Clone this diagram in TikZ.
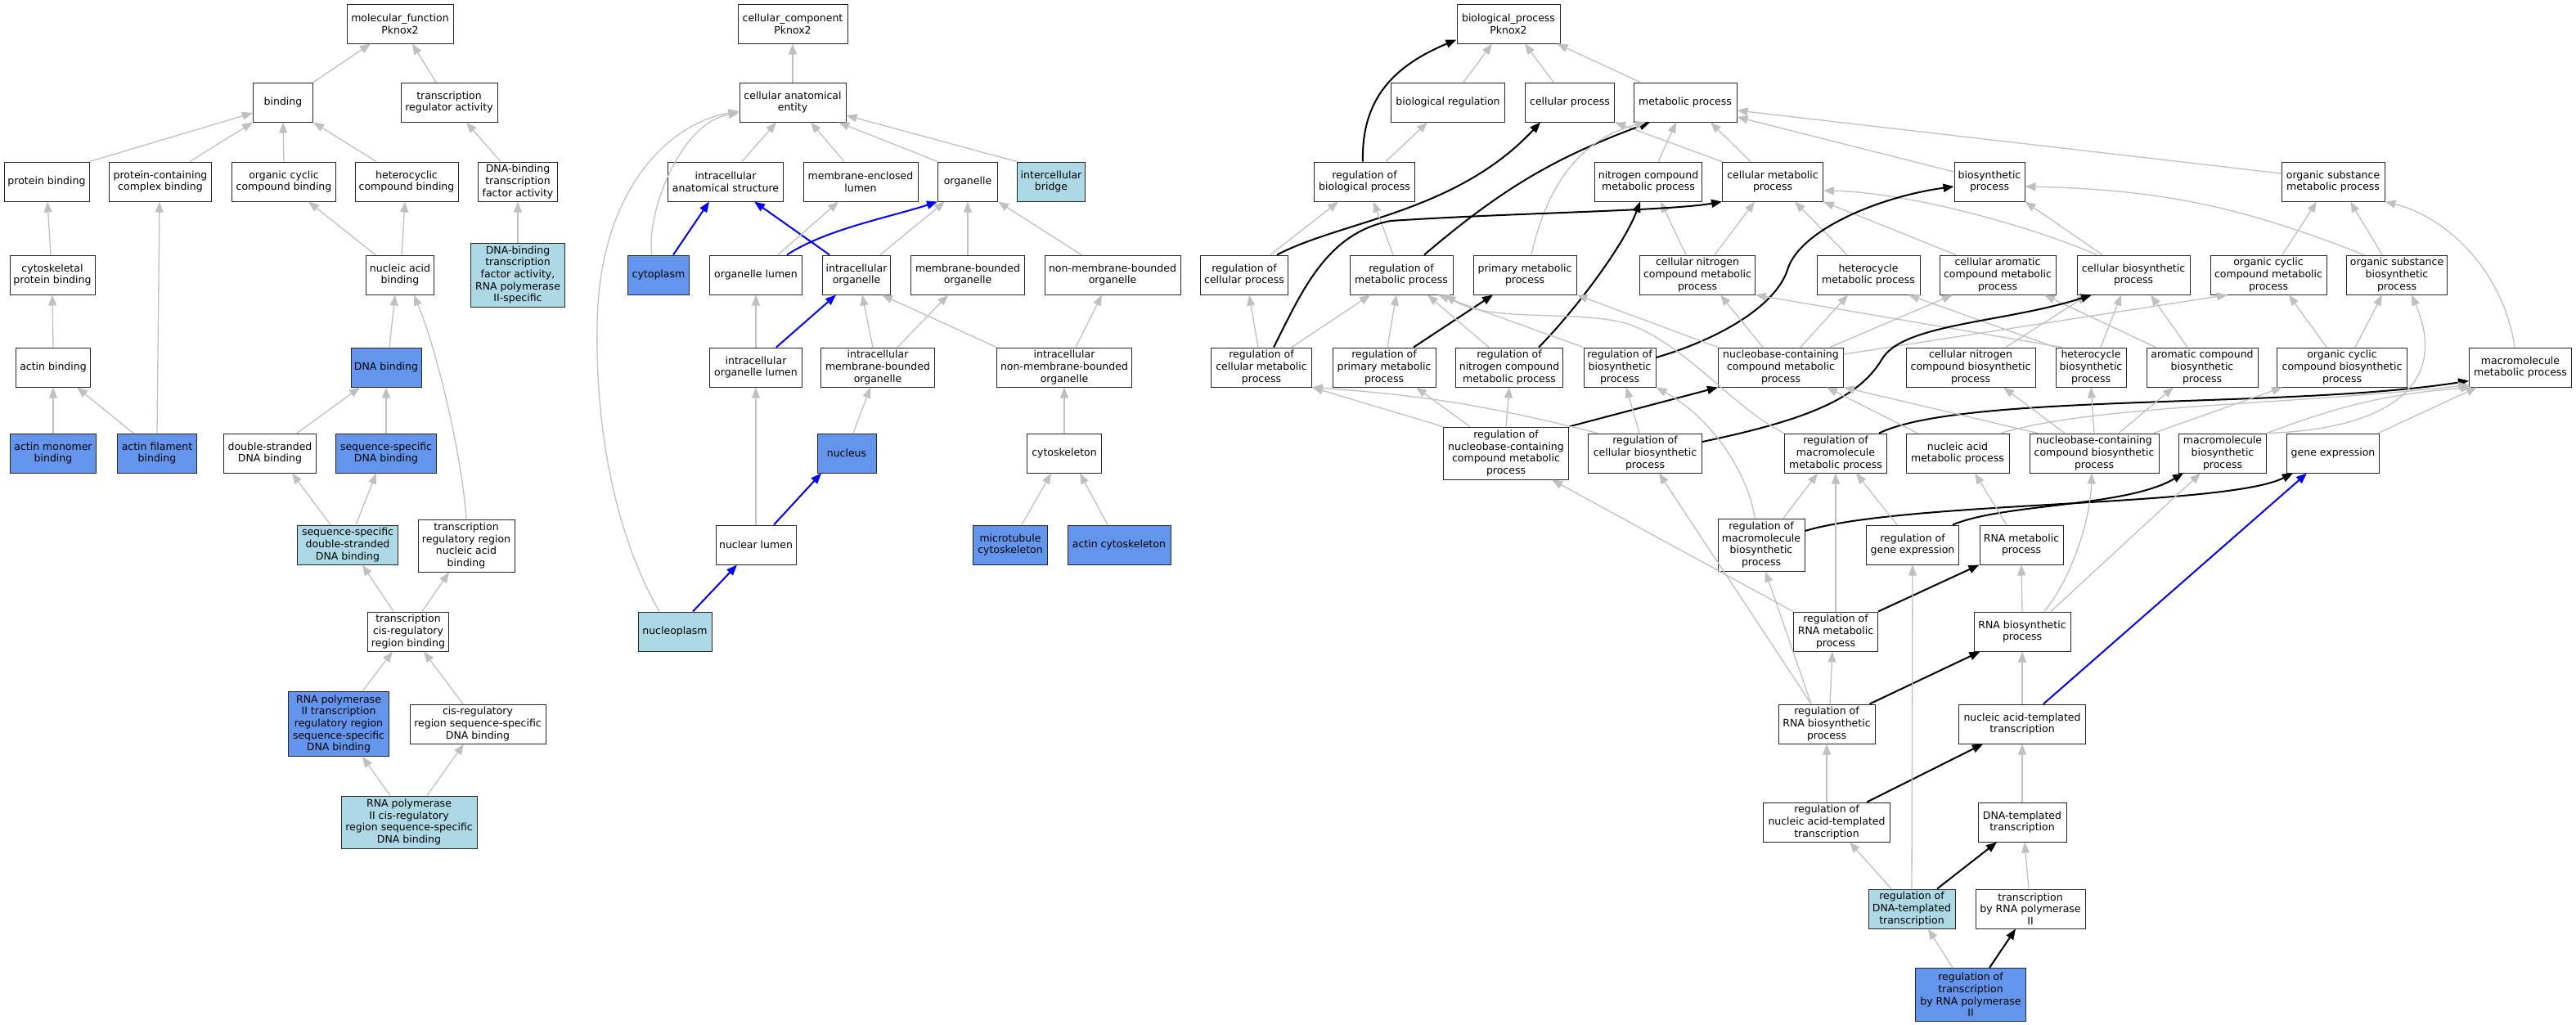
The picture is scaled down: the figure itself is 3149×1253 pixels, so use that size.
\documentclass[tikz,border=0pt]{standalone}
\usepackage{fontspec}
\setmainfont{DejaVu Sans}
\usetikzlibrary{arrows.meta}
\definecolor{cornflower}{HTML}{6495ED}
\definecolor{lightblu}{HTML}{ADD8E6}
\definecolor{edgegray}{HTML}{C0C0C0}
\begin{document}
\begin{tikzpicture}[x=1pt,y=-1pt,
    goterm/.style={draw=black!85, line width=1pt, fill=white, align=center,
      inner xsep=2pt, inner ysep=1pt, minimum height=48pt,
      font=\fontsize{12.5}{14.7}\selectfont},
    gohit/.style={goterm, fill=cornflower},
    golight/.style={goterm, fill=lightblu},
    isa/.style={draw=edgegray, line width=1.3pt, -{Triangle[length=13pt,width=10pt]}},
    regedge/.style={draw=black, line width=2pt, -{Triangle[length=13pt,width=10pt]}},
    partof/.style={draw=blue, line width=2pt, -{Triangle[length=13pt,width=10pt]}}]
    \useasboundingbox (0,0) rectangle (3149,1253);

    % molecular function
    \node[goterm, minimum width=130pt] (mf) at (489,29) {molecular\_function\\Pknox2};
    \node[goterm, minimum width=73pt] (bind) at (346,125) {binding};
    \node[goterm, minimum width=118pt] (trreg) at (549,125) {transcription\\regulator activity};
    \node[goterm, minimum width=104pt] (protb) at (57,222) {protein binding};
    \node[goterm, minimum width=125pt] (pcplx) at (196,222) {protein-containing\\complex binding};
    \node[goterm, minimum width=127pt] (occb) at (347,222) {organic cyclic\\compound binding};
    \node[goterm, minimum width=126pt] (hetcb) at (497,222) {heterocyclic\\compound binding};
    \node[goterm, minimum width=97pt] (dbtf) at (633,222) {DNA-binding\\transcription\\factor activity};
    \node[goterm, minimum width=104pt] (cytpb) at (64,336) {cytoskeletal\\protein binding};
    \node[goterm, minimum width=83pt] (nab) at (489,336) {nucleic acid\\binding};
    \node[golight, minimum width=115pt, minimum height=78pt] (dbtf2) at (633,336) {DNA-binding\\transcription\\factor activity,\\RNA polymerase\\II-specific};
    \node[goterm, minimum width=91pt] (actb) at (65,449) {actin binding};
    \node[gohit, minimum width=86pt] (dnab) at (472,449) {DNA binding};
    \node[gohit, minimum width=105pt] (actmb) at (65,554) {actin monomer\\binding};
    \node[gohit, minimum width=97pt] (actfb) at (192,554) {actin filament\\binding};
    \node[goterm, minimum width=113pt] (dsdb) at (330,554) {double-stranded\\DNA binding};
    \node[gohit, minimum width=123pt] (ssdb) at (472,554) {sequence-specific\\DNA binding};
    \node[golight, minimum width=123pt] (ssds) at (425,666) {sequence-specific\\double-stranded\\DNA binding};
    \node[goterm, minimum width=118pt, minimum height=64pt] (trrna) at (570,667) {transcription\\regulatory region\\nucleic acid\\binding};
    \node[goterm, minimum width=99pt] (tcis) at (499,772) {transcription\\cis-regulatory\\region binding};
    \node[gohit, minimum width=123pt, minimum height=79pt] (rp2reg) at (414,885) {RNA polymerase\\II transcription\\regulatory region\\sequence-specific\\DNA binding};
    \node[goterm, minimum width=166pt] (cisss) at (584,885) {cis-regulatory\\region sequence-specific\\DNA binding};
    \node[golight, minimum width=166pt, minimum height=64pt] (rp2cis) at (500,1005) {RNA polymerase\\II cis-regulatory\\region sequence-specific\\DNA binding};

    \draw[isa] (bind.north east) -- ([xshift=-36pt]mf.south);
    \draw[isa] ([xshift=-16pt]trreg.north) -- ([xshift=15pt]mf.south);
    \draw[isa] (protb.north east) -- ([yshift=-13pt]bind.west);
    \draw[isa] ([xshift=36pt]pcplx.north) -- (bind.south west);
    \draw[isa] (occb.north) -- (bind.south);
    \draw[isa] ([xshift=-37pt]hetcb.north) -- (bind.south east);
    \draw[isa] ([xshift=-21pt]dbtf.north) -- ([xshift=21pt]trreg.south);
    \draw[isa] (dbtf2.north) -- (dbtf.south);
    \draw[isa] ([xshift=-2pt]cytpb.north) -- ([xshift=1pt]protb.south);
    \draw[isa] ([xshift=-30pt]nab.north) -- ([xshift=30pt]occb.south);
    \draw[isa] ([xshift=2pt]nab.north) -- ([xshift=-2pt]hetcb.south);
    \draw[isa] (actb.north) -- (cytpb.south);
    \draw[isa] ([xshift=4pt]dnab.north) -- ([xshift=-6pt]nab.south);
    \draw[isa] (trrna.north) .. controls (565,560) and (535,430) .. ([xshift=17pt]nab.south);
    \draw[isa] (actmb.north) -- (actb.south);
    \draw[isa] ([xshift=-29pt]actfb.north) -- ([xshift=29pt]actb.south);
    \draw[isa] (actfb.north) -- ([xshift=-1pt]pcplx.south);
    \draw[isa] ([xshift=33pt]dsdb.north) -- ([xshift=-32pt]dnab.south);
    \draw[isa] (ssdb.north) -- (dnab.south);
    \draw[isa] ([xshift=-21pt]ssds.north) -- ([xshift=27pt]dsdb.south);
    \draw[isa] ([xshift=10pt]ssds.north) -- ([xshift=-12pt]ssdb.south);
    \draw[isa] ([xshift=-18pt]tcis.north) -- ([xshift=18pt]ssds.south);
    \draw[isa] ([xshift=17pt]tcis.north) -- ([xshift=-21pt]trrna.south);
    \draw[isa] ([xshift=29pt]rp2reg.north) -- ([xshift=-19pt]tcis.south);
    \draw[isa] ([xshift=-18pt]cisss.north) -- ([xshift=19pt]tcis.south);
    \draw[isa] ([xshift=-23pt]rp2cis.north) -- ([xshift=29pt]rp2reg.south);
    \draw[isa] ([xshift=22pt]rp2cis.north) -- ([xshift=-17pt]cisss.south);

    % cellular component
    \node[goterm, minimum width=134pt] (cc) at (969,29) {cellular\_component\\Pknox2};
    \node[goterm, minimum width=130pt] (cae) at (969,125) {cellular anatomical\\entity};
    \node[goterm, minimum width=141pt] (ias) at (887,222) {intracellular\\anatomical structure};
    \node[goterm, minimum width=140pt] (mel) at (1052,222) {membrane-enclosed\\lumen};
    \node[goterm, minimum width=73pt] (org) at (1183,222) {organelle};
    \node[golight, minimum width=83pt] (icb) at (1285,222) {intercellular\\bridge};
    \node[gohit, minimum width=75pt] (cyto) at (805,336) {cytoplasm};
    \node[goterm, minimum width=113pt] (orgl) at (924,336) {organelle lumen};
    \node[goterm, minimum width=83pt] (iorg) at (1047,336) {intracellular\\organelle};
    \node[goterm, minimum width=139pt] (mbo) at (1183,336) {membrane-bounded\\organelle};
    \node[goterm, minimum width=166pt] (nmbo) at (1360,336) {non-membrane-bounded\\organelle};
    \node[goterm, minimum width=113pt] (iol) at (924,449) {intracellular\\organelle lumen};
    \node[goterm, minimum width=139pt] (imbo) at (1073,449) {intracellular\\membrane-bounded\\organelle};
    \node[goterm, minimum width=165pt] (inmbo) at (1301,449) {intracellular\\non-membrane-bounded\\organelle};
    \node[gohit, minimum width=72pt] (nuc) at (1035,554) {nucleus};
    \node[goterm, minimum width=91pt] (cysk) at (1301,554) {cytoskeleton};
    \node[goterm, minimum width=98pt] (nlum) at (924,666) {nuclear lumen};
    \node[gohit, minimum width=91pt] (mtc) at (1235,666) {microtubule\\cytoskeleton};
    \node[gohit, minimum width=126pt] (acs) at (1368,666) {actin cytoskeleton};
    \node[golight, minimum width=90pt] (nplasm) at (825,772) {nucleoplasm};

    \draw[isa] (cae.north) -- (cc.south);
    \draw[isa] ([xshift=20pt]ias.north) -- ([xshift=-20pt]cae.south);
    \draw[isa] ([xshift=-20pt]mel.north) -- ([xshift=22pt]cae.south);
    \draw[isa] (org.north west) -- ([xshift=56pt]cae.south);
    \draw[isa] (icb.north west) -- ([yshift=-16pt]cae.east);
    \draw[isa] ([xshift=-8pt]cyto.north) .. controls (789,265) and (830,150) .. ([yshift=-13pt]cae.west);
    \draw[isa] ([xshift=-19pt]nplasm.north) .. controls (750,650) and (728,520) .. (730,400)
      .. controls (731,230) and (820,150) .. ([yshift=-11pt]cae.west);
    \draw[partof] ([xshift=18pt]cyto.north) -- ([xshift=-20pt]ias.south);
    \draw[partof] ([xshift=-33pt]iorg.north) -- ([xshift=35pt]ias.south);
    \draw[isa] ([xshift=27pt]orgl.north) -- ([xshift=-27pt]mel.south);
    \draw[partof] ([xshift=38pt]orgl.north) .. controls (1010,280) and (1090,265) .. (org.south west);
    \draw[isa] ([xshift=29pt]iorg.north) -- ([xshift=-28pt]org.south);
    \draw[isa] (mbo.north) -- (org.south);
    \draw[isa] ([xshift=-38pt]nmbo.north) -- (org.south east);
    \draw[isa] (iol.north) -- (orgl.south);
    \draw[partof] ([xshift=25pt]iol.north) -- ([xshift=-25pt]iorg.south);
    \draw[isa] ([xshift=-6pt]imbo.north) -- ([xshift=7pt]iorg.south);
    \draw[isa] ([xshift=24pt]imbo.north) -- ([xshift=-24pt]mbo.south);
    \draw[isa] (inmbo.north west) -- ([xshift=31pt]iorg.south);
    \draw[isa] ([xshift=14pt]inmbo.north) -- ([xshift=-13pt]nmbo.south);
    \draw[isa] (nlum.north) -- (iol.south);
    \draw[isa] ([xshift=8pt]nuc.north) -- ([xshift=-9pt]imbo.south);
    \draw[partof] ([xshift=22pt]nlum.north) -- ([xshift=-31pt]nuc.south);
    \draw[isa] (cysk.north) -- (inmbo.south);
    \draw[isa] ([xshift=14pt]mtc.north) -- ([xshift=-16pt]cysk.south);
    \draw[isa] ([xshift=-14pt]acs.north) -- ([xshift=19pt]cysk.south);
    \draw[partof] ([xshift=22pt]nplasm.north) -- ([xshift=-23pt]nlum.south);

    % biological process
    \node[goterm, minimum width=126pt] (bp) at (1844,29) {biological\_process\\Pknox2};
    \node[goterm, minimum width=139pt] (breg) at (1770,125) {biological regulation};
    \node[goterm, minimum width=109pt] (cellp) at (1919,125) {cellular process};
    \node[goterm, minimum width=126pt] (metp) at (2060,125) {metabolic process};
    \node[goterm, minimum width=123pt] (rbp) at (1668,222) {regulation of\\biological process};
    \node[goterm, minimum width=131pt] (ncmp) at (2015,222) {nitrogen compound\\metabolic process};
    \node[goterm, minimum width=123pt] (cmp) at (2167,222) {cellular metabolic\\process};
    \node[goterm, minimum width=86pt] (bsp) at (2432,222) {biosynthetic\\process};
    \node[goterm, minimum width=126pt] (osmp) at (2852,222) {organic substance\\metabolic process};
    \node[goterm, minimum width=107pt] (rcp) at (1521,336) {regulation of\\cellular process};
    \node[goterm, minimum width=126pt] (rmp) at (1713,336) {regulation of\\metabolic process};
    \node[goterm, minimum width=126pt] (pmp) at (1864,336) {primary metabolic\\process};
    \node[goterm, minimum width=141pt] (cncmp) at (2075,336) {cellular nitrogen\\compound metabolic\\process};
    \node[goterm, minimum width=126pt] (hmp) at (2284,336) {heterocycle\\metabolic process};
    \node[goterm, minimum width=142pt] (camp) at (2442,336) {cellular aromatic\\compound metabolic\\process};
    \node[goterm, minimum width=138pt] (cbp) at (2608,336) {cellular biosynthetic\\process};
    \node[goterm, minimum width=142pt] (occmp) at (2773,336) {organic cyclic\\compound metabolic\\process};
    \node[goterm, minimum width=123pt] (osbp) at (2930,336) {organic substance\\biosynthetic\\process};
    \node[goterm, minimum width=123pt] (rcmp) at (1542,449) {regulation of\\cellular metabolic\\process};
    \node[goterm, minimum width=126pt] (rpmp) at (1692,449) {regulation of\\primary metabolic\\process};
    \node[goterm, minimum width=131pt] (rncmp) at (1845,449) {regulation of\\nitrogen compound\\metabolic process};
    \node[goterm, minimum width=88pt] (rbsp) at (1980,449) {regulation of\\biosynthetic\\process};
    \node[goterm, minimum width=153pt] (nbmp) at (2177,449) {nucleobase-containing\\compound metabolic\\process};
    \node[goterm, minimum width=158pt] (cncbp) at (2409,449) {cellular nitrogen\\compound biosynthetic\\process};
    \node[goterm, minimum width=86pt] (hbp) at (2556,449) {heterocycle\\biosynthetic\\process};
    \node[goterm, minimum width=136pt] (acbp) at (2692,449) {aromatic compound\\biosynthetic\\process};
    \node[goterm, minimum width=159pt] (occbp) at (2863,449) {organic cyclic\\compound biosynthetic\\process};
    \node[goterm, minimum width=125pt] (mmp) at (3081,449) {macromolecule\\metabolic process};
    \node[goterm, minimum width=153pt, minimum height=64pt] (rnbmp) at (1841,554) {regulation of\\nucleobase-containing\\compound metabolic\\process};
    \node[goterm, minimum width=139pt] (rcbp) at (2011,554) {regulation of\\cellular biosynthetic\\process};
    \node[goterm, minimum width=125pt] (rmmp) at (2244,554) {regulation of\\macromolecule\\metabolic process};
    \node[goterm, minimum width=126pt] (namp) at (2393,554) {nucleic acid\\metabolic process};
    \node[goterm, minimum width=158pt] (nbbp) at (2560,554) {nucleobase-containing\\compound biosynthetic\\process};
    \node[goterm, minimum width=107pt] (mbp) at (2717,554) {macromolecule\\biosynthetic\\process};
    \node[goterm, minimum width=113pt] (gexp) at (2852,554) {gene expression};
    \node[goterm, minimum width=106pt, minimum height=64pt] (rmbp) at (2153,666) {regulation of\\macromolecule\\biosynthetic\\process};
    \node[goterm, minimum width=113pt] (rgexp) at (2338,666) {regulation of\\gene expression};
    \node[goterm, minimum width=102pt] (rnamp) at (2471,666) {RNA metabolic\\process};
    \node[goterm, minimum width=103pt] (rrnamp) at (2244,772) {regulation of\\RNA metabolic\\process};
    \node[goterm, minimum width=118pt] (rnabp) at (2472,772) {RNA biosynthetic\\process};
    \node[goterm, minimum width=118pt] (rrnabp) at (2233,885) {regulation of\\RNA biosynthetic\\process};
    \node[goterm, minimum width=155pt] (natt) at (2472,885) {nucleic acid-templated\\transcription};
    \node[goterm, minimum width=155pt] (rnatt) at (2233,1005) {regulation of\\nucleic acid-templated\\transcription};
    \node[goterm, minimum width=108pt] (dtt) at (2472,1005) {DNA-templated\\transcription};
    \node[golight, minimum width=106pt] (rdtt) at (2337,1111) {regulation of\\DNA-templated\\transcription};
    \node[goterm, minimum width=134pt] (trp2) at (2482,1111) {transcription\\by RNA polymerase\\II};
    \node[gohit, minimum width=135pt, minimum height=65pt] (rtrp2) at (2409,1216) {regulation of\\transcription\\by RNA polymerase\\II};

    \draw[isa] ([xshift=19pt]breg.north) -- ([xshift=-20pt]bp.south);
    \draw[isa] ([xshift=-20pt]cellp.north) -- ([xshift=20pt]bp.south);
    \draw[isa] ([xshift=-55pt]metp.north) -- ([xshift=-4pt]bp.south east);
    \draw[regedge] ([xshift=-2pt]rbp.north) .. controls (1664,120) and (1705,80) .. ([yshift=5pt]bp.south west);
    \draw[isa] ([xshift=26pt]rbp.north) -- ([xshift=-25pt]breg.south);
    \draw[isa] ([xshift=12pt]ncmp.north) -- ([xshift=-11pt]metp.south);
    \draw[isa] ([xshift=-27pt]cmp.north) -- ([xshift=31pt]metp.south);
    \draw[isa] (cmp.north west) -- (cellp.south east);
    \draw[isa] ([yshift=12pt]bsp.west) -- ([yshift=-18pt]metp.east);
    \draw[isa] ([yshift=10pt]osmp.west) -- ([yshift=-10pt]metp.east);
    \draw[isa] ([xshift=32pt]rcp.north) -- ([xshift=-32pt]rbp.south);
    \draw[regedge] ([xshift=40pt]rcp.north) .. controls (1640,270) and (1780,260) .. ([xshift=-36pt]cellp.south);
    \draw[isa] ([xshift=-10pt]rmp.north) -- ([xshift=11pt]rbp.south);
    \draw[regedge] ([xshift=28pt]rmp.north) to[bend left=10] ([xshift=-43pt]metp.south);
    \draw[isa] ([xshift=8pt]pmp.north) .. controls (1890,230) and (1930,170) .. ([xshift=-48pt]metp.south);
    \draw[isa] ([xshift=-14pt]cncmp.north) -- ([xshift=15pt]ncmp.south);
    \draw[isa] ([xshift=21pt]cncmp.north) -- ([xshift=-22pt]cmp.south);
    \draw[isa] ([xshift=-26pt]hmp.north) -- ([xshift=27pt]cmp.south);
    \draw[isa] ([xshift=-51pt]camp.north) -- (cmp.south east);
    \draw[isa] ([xshift=-38pt]cbp.north) -- (bsp.south east);
    \draw[isa] ([xshift=-45pt]cbp.north) .. controls (2480,275) and (2330,235) .. ([yshift=-11pt]cmp.east);
    \draw[isa] ([xshift=-40pt]osbp.north) to[bend right=10] ([yshift=-6pt]bsp.east);
    \draw[isa] ([xshift=-18pt]osbp.north) -- ([xshift=21pt]osmp.south);
    \draw[isa] ([xshift=17pt]occmp.north) -- ([xshift=-20pt]osmp.south);
    \draw[isa] ([xshift=-7pt]mmp.north) .. controls (3060,330) and (2990,265) .. (osmp.south east);
    \draw[regedge] ([xshift=15pt]rcmp.north) .. controls (1590,360) and (1620,285) .. (1700,270)
      .. controls (1850,260) and (2040,258) .. (cmp.south west);
    \draw[isa] ([xshift=-4pt]rcmp.north) -- ([xshift=6pt]rcp.south);
    \draw[isa] ([xshift=37pt]rcmp.north) -- ([xshift=-38pt]rmp.south);
    \draw[isa] ([xshift=4pt]rpmp.north) -- ([xshift=-6pt]rmp.south);
    \draw[regedge] ([xshift=36pt]rpmp.north) -- ([xshift=-39pt]pmp.south);
    \draw[isa] ([xshift=-25pt]rncmp.north) -- ([xshift=32pt]rmp.south);
    \draw[regedge] ([xshift=36pt]rncmp.north) .. controls (1925,380) and (1985,300) .. ([xshift=-10pt]ncmp.south);
    \draw[isa] (rbsp.north west) -- ([xshift=45pt]rmp.south);
    \draw[regedge] ([yshift=12pt]rbsp.east) .. controls (2100,415) and (2170,375) .. (2185,330)
      .. controls (2200,280) and (2300,240) .. ([yshift=-6pt]bsp.west);
    \draw[isa] (nbmp.north west) -- (pmp.south east);
    \draw[isa] ([xshift=-22pt]nbmp.north) -- ([xshift=28pt]cncmp.south);
    \draw[isa] ([xshift=24pt]nbmp.north) -- ([xshift=-25pt]hmp.south);
    \draw[isa] ([xshift=60pt]nbmp.north) -- ([xshift=-55pt]camp.south);
    \draw[isa] ([yshift=16pt]nbmp.east) -- ([xshift=-50pt]occmp.south);
    \draw[isa] (hbp.north west) -- ([xshift=49pt]hmp.south);
    \draw[isa] ([xshift=8pt]hbp.north west) -- (cncmp.south east);
    \draw[isa] ([xshift=43pt]cncbp.north) -- ([xshift=-56pt]cbp.south);
    \draw[isa] ([xshift=12pt]hbp.north) -- ([xshift=-15pt]cbp.south);
    \draw[isa] ([xshift=-18pt]acbp.north) -- ([xshift=21pt]cbp.south);
    \draw[isa] ([xshift=-57pt]acbp.north) -- ([xshift=57pt]camp.south);
    \draw[isa] ([xshift=-19pt]occbp.north) -- ([xshift=25pt]occmp.south);
    \draw[isa] ([xshift=16pt]occbp.north) -- ([xshift=-18pt]osbp.south);
    \draw[isa] (rnbmp.north west) -- (rcmp.south east);
    \draw[isa] ([xshift=-44pt]rnbmp.north) -- ([xshift=39pt]rpmp.south);
    \draw[isa] (rnbmp.north) -- (rncmp.south);
    \draw[regedge] (rnbmp.north east) -- (nbmp.south west);
    \draw[isa] ([xshift=-58pt]rcbp.north) to[bend right=5] (rcmp.south east);
    \draw[isa] ([xshift=-7pt]rcbp.north) -- ([xshift=8pt]rbsp.south);
    \draw[regedge] ([yshift=14pt]rcbp.east) .. controls (2200,515) and (2270,490) .. (2300,440)
      .. controls (2325,395) and (2450,395) .. ([xshift=-51pt]cbp.south);
    \draw[isa] (rmmp.north west) .. controls (2120,500) and (2060,420) .. (1990,396)
      .. controls (1930,378) and (1820,395) .. ([xshift=-10pt]rmp.south east);
    \draw[regedge] ([xshift=-10pt]rmmp.north east) .. controls (2400,480) and (2800,500) .. ([yshift=8pt]mmp.south west);
    \draw[isa] ([xshift=53pt]namp.north) .. controls (2560,495) and (2800,495) .. ([yshift=3pt]mmp.south west);
    \draw[isa] ([xshift=-49pt]namp.north) -- ([xshift=56pt]nbmp.south);
    \draw[isa] ([xshift=-69pt]nbbp.north) -- (nbmp.south east);
    \draw[isa] (nbbp.north) -- (hbp.south);
    \draw[isa] ([xshift=30pt]nbbp.north) -- ([xshift=-35pt]acbp.south);
    \draw[isa] ([xshift=-36pt]nbbp.north) -- ([xshift=40pt]cncbp.south);
    \draw[isa] ([xshift=-7pt]nbbp.north east) -- ([xshift=-73pt]occbp.south);
    \draw[isa] (mbp.north east) .. controls (2920,525) and (2995,470) .. ([xshift=18pt]osbp.south);
    \draw[isa] (mbp.north east) to[bend left=8] ([xshift=3pt]mmp.south west);
    \draw[isa] ([xshift=-2pt]gexp.north east) -- ([xshift=10pt]mmp.south west);
    \draw[isa] ([xshift=-8pt]rmbp.north) .. controls (2140,590) and (2100,515) .. (rbsp.south east);
    \draw[isa] ([xshift=27pt]rmbp.north) -- ([xshift=-22pt]rmmp.south);
    \draw[regedge] ([yshift=17pt]rmbp.east) .. controls (2330,612) and (2720,620) .. ([xshift=8pt]gexp.south west);
    \draw[regedge] ([xshift=-8pt]rgexp.north east) .. controls (2450,615) and (2600,620) .. ([xshift=6pt]mbp.south west);
    \draw[isa] ([xshift=-19pt]rgexp.north) -- ([xshift=25pt]rmmp.south);
    \draw[isa] ([xshift=-18pt]rnamp.north) -- ([xshift=21pt]namp.south);
    \draw[isa] (rrnamp.north west) -- ([xshift=56pt]rnbmp.south);
    \draw[isa] (rrnamp.north) -- (rmmp.south);
    \draw[regedge] (rrnamp.north east) -- (rnamp.south west);
    \draw[isa] (rnabp.north) -- (rnamp.south);
    \draw[isa] ([xshift=27pt]rnabp.north) .. controls (2530,710) and (2555,640) .. ([xshift=-3pt]nbbp.south);
    \draw[isa] ([xshift=35pt]rnabp.north) -- ([xshift=-27pt]mbp.south);
    \draw[regedge] ([xshift=-7pt]rrnabp.north east) -- ([xshift=8pt]rnabp.south west);
    \draw[isa] ([xshift=4pt]rrnabp.north) -- ([xshift=-4pt]rrnamp.south);
    \draw[isa] ([xshift=-19pt]rrnabp.north) -- ([xshift=5pt]rmbp.south);
    \draw[isa] ([xshift=-19pt]rrnabp.north) -- ([xshift=17pt]rcbp.south);
    \draw[isa] (natt.north) -- (rnabp.south);
    \draw[partof] ([xshift=26pt]natt.north) -- ([xshift=-32pt]gexp.south);
    \draw[isa] (rnatt.north) -- (rrnabp.south);
    \draw[regedge] ([xshift=49pt]rnatt.north) -- ([xshift=-48pt]natt.south);
    \draw[isa] (dtt.north) -- (natt.south);
    \draw[isa] ([xshift=-25pt]rdtt.north) -- ([xshift=28pt]rnatt.south);
    \draw[regedge] ([xshift=31pt]rdtt.north) -- ([xshift=-31pt]dtt.south);
    \draw[isa] (rdtt.north) -- (rgexp.south);
    \draw[isa] ([xshift=-2pt]trp2.north) -- ([xshift=3pt]dtt.south);
    \draw[isa] ([xshift=-22pt]rtrp2.north) -- ([xshift=20pt]rdtt.south);
    \draw[regedge] ([xshift=23pt]rtrp2.north) -- ([xshift=-18pt]trp2.south);
\end{tikzpicture}
\end{document}
